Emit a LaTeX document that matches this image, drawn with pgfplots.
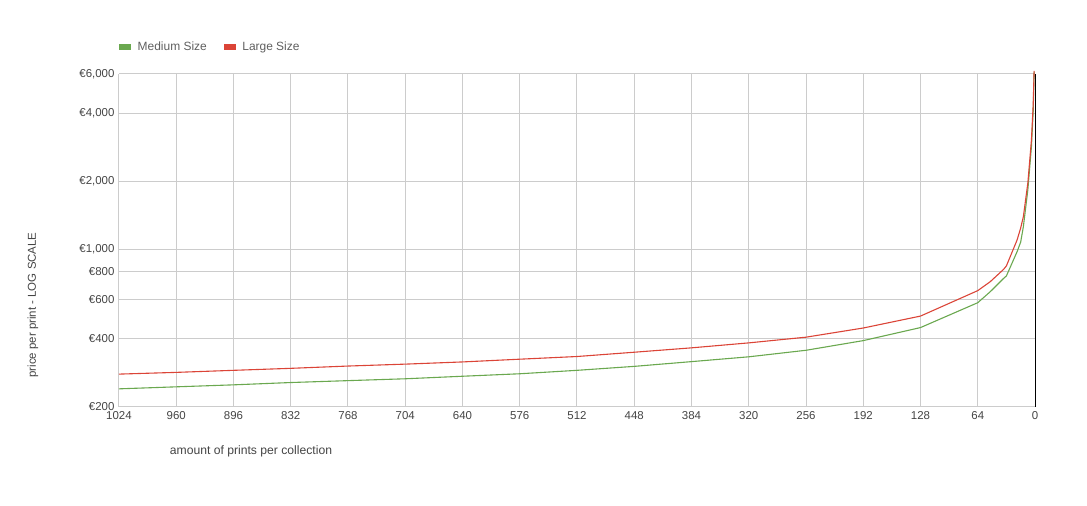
\documentclass[border=0pt]{standalone}
\usepackage{fontspec}
\setmainfont{Liberation Sans}
\usepackage{pgfplots}
\pgfplotsset{compat=1.18}
\definecolor{medium}{HTML}{6AA84F}
\definecolor{large}{HTML}{DB4437}
\definecolor{gridgray}{HTML}{CCCCCC}
\definecolor{labelgray}{HTML}{444444}
\definecolor{legendgray}{HTML}{5F5F5F}

\begin{document}
\begin{tikzpicture}[x=1bp,y=1bp]
\useasboundingbox (0,0) rectangle (1087,506);
\begin{axis}[
  at={(119bp,99.3bp)}, anchor=south west,
  scale only axis, width=916bp, height=332.7bp,
  x dir=reverse, xmin=0, xmax=1024,
  xtick={0,64,...,1024},
  ymode=log, ymin=200, ymax=6000,
  ytick={200,400,600,800,1000,2000,4000,6000},
  yticklabels={€200,€400,€600,€800,{€1,000},{€2,000},{€4,000},{€6,000}},
  minor tick num=0,
  grid=major,
  major grid style={gridgray, line width=1bp},
  axis line style={draw=none},
  tick style={draw=none},
  /pgf/number format/1000 sep={},
  /pgf/number format/assume math mode=true,
  tick label style={font=\fontsize{11.5}{13}\selectfont, text=labelgray},
  yticklabel style={xshift=-1bp},
  xticklabel style={yshift=-1bp},
  clip=false,
  legend columns=2,
  legend style={draw=none, fill=none, at={(0,1.081)}, anchor=west,
    inner sep=0pt, font=\fontsize{12}{14}\selectfont, text=legendgray,
    /tikz/every even column/.append style={column sep=15bp}},
  legend image code/.code={\fill[#1] (0bp,-2bp) rectangle (11bp,2bp); \path[draw=none] (0bp,0bp) -- (16bp,0bp);},
]
\addplot[black, line width=1bp, forget plot] coordinates {(0,200) (0,6000)};

\addplot[medium, line width=1.1bp] coordinates {
(1024,240) (960,245) (896,250) (832,256) (768,261) (704,266) (640,273)
(576,280) (512,290) (448,302) (384,317) (320,333) (256,356) (192,393)
(128,449) (64,579) (50,648) (35,743) (32,761) (20,976) (16,1077)
(13,1260) (8,1835) (4,2846) (2,4100) (1,6150) };
\addlegendentry{Medium Size}

\addplot[large, line width=1.1bp] coordinates {
(1024,279) (960,284) (896,290) (832,296) (768,303) (704,309) (640,316)
(576,325) (512,334) (448,349) (384,365) (320,384) (256,407) (192,447)
(128,505) (64,655) (50,718) (35,815) (32,843) (20,1100) (16,1243)
(13,1396) (8,1970) (4,3056) (2,4400) (1,6200) };
\addlegendentry{Large Size}
\end{axis}
\node[rotate=90, text=labelgray, font=\fontsize{11.5}{13}\selectfont] at (33,201) {price per print - LOG SCALE};
\node[text=labelgray, font=\fontsize{12.2}{14}\selectfont] at (251,55) {amount of prints per collection};
\end{tikzpicture}
\end{document}
